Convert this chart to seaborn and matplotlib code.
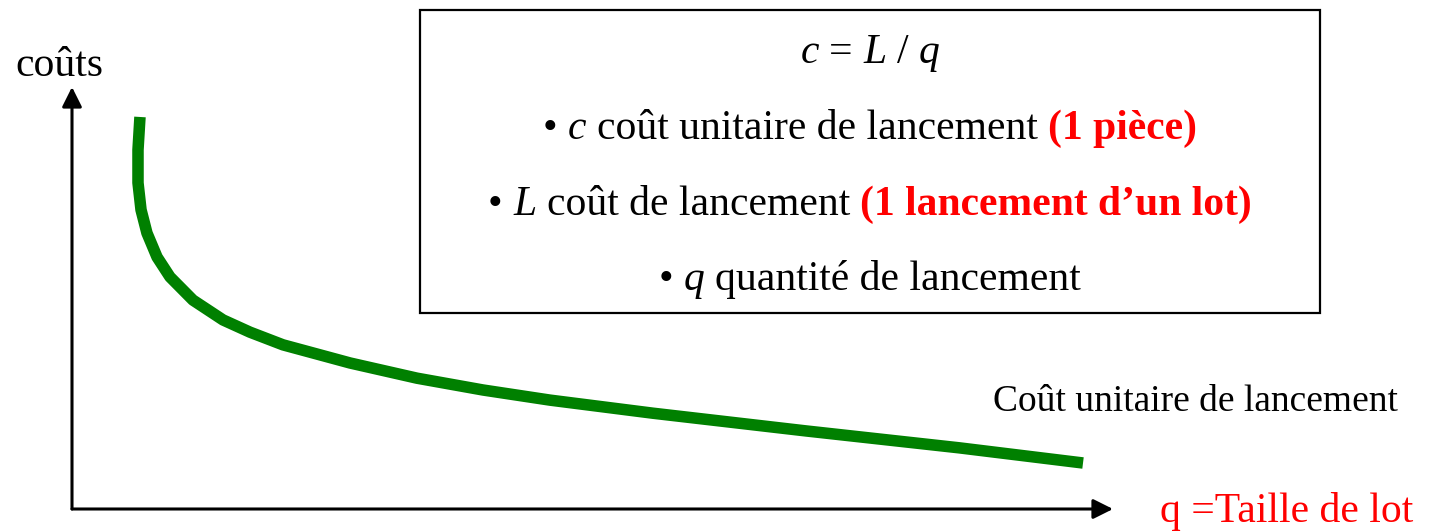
import matplotlib
matplotlib.use('Agg')
import matplotlib.pyplot as plt
import matplotlib.patches as mpatches
import seaborn as sns

# curve (q in % of the x axis, cost in % of the y axis)
lot_size = [6.53, 6.34, 6.34, 6.63, 7.20, 8.17, 9.41, 11.62, 14.51, 17.10, 20.27,
            26.71, 33.14, 39.48, 45.92, 55.81, 70.51, 85.21, 97.12]
unit_cost = [92.9, 85.1, 77.3, 70.9, 65.4, 59.7, 55.0, 49.5, 44.8, 41.9, 38.9,
             34.6, 31.0, 28.2, 25.8, 22.7, 18.5, 14.5, 10.9]

formula = [('c', 'italic', 'normal', 'black'), ('=', 'normal', 'normal', 'black'),
           ('L', 'italic', 'normal', 'black'), ('/', 'normal', 'normal', 'black'),
           ('q', 'italic', 'normal', 'black')]
line_c = [('\u2022', 'normal', 'normal', 'black'), ('c', 'italic', 'normal', 'black'),
          ('coût unitaire de lancement', 'normal', 'normal', 'black'),
          ('(1 pièce)', 'normal', 'bold', 'red')]
line_l = [('\u2022', 'normal', 'normal', 'black'), ('L', 'italic', 'normal', 'black'),
          ('coût de lancement', 'normal', 'normal', 'black'),
          ('(1 lancement d\u2019un lot)', 'normal', 'bold', 'red')]
line_q = [('\u2022', 'normal', 'normal', 'black'), ('q', 'italic', 'normal', 'black'),
          ('quantité de lancement', 'normal', 'normal', 'black')]

sns.set_style('white')
plt.rcParams['font.family'] = ['Liberation Serif', 'DejaVu Serif']
plt.rcParams['text.color'] = 'black'

W, H, DPI = 1437, 532, 100
fig = plt.figure(figsize=(W / DPI, H / DPI), dpi=DPI)
ax = fig.add_axes([72 / W, (H - 509) / H, 1041 / W, 422 / H])
ax.set_xlim(0, 100)
ax.set_ylim(0, 100)
ax.set_axis_off()

sns.lineplot(x=lot_size, y=unit_cost, sort=False, estimator=None,
             color='green', linewidth=8.3, ax=ax)
ax.lines[0].set_solid_capstyle('butt')
ax.lines[0].set_solid_joinstyle('round')

arrow = dict(arrowstyle='-|>', color='black', lw=2.2, mutation_scale=30,
             shrinkA=0, shrinkB=0)
ax.annotate('', xy=(100, 0), xytext=(0, 0), arrowprops=arrow, annotation_clip=False)
ax.annotate('', xy=(0, 100), xytext=(0, 0), arrowprops=arrow, annotation_clip=False)


def fx(x, y):
    return x / W, 1 - y / H


renderer = fig.canvas.get_renderer()


def draw_runs(runs, cx, base, size):
    texts = []
    for s, style, weight, color in runs:
        texts.append(fig.text(0, 0, s, fontsize=size, fontstyle=style,
                              fontweight=weight, color=color,
                              ha='left', va='baseline'))
    widths = [t.get_window_extent(renderer).width for t in texts]
    gap = size * DPI / 72 * 0.25
    x = cx - (sum(widths) + gap * (len(texts) - 1)) / 2
    for t, w in zip(texts, widths):
        t.set_position(fx(x, base))
        x += w + gap


fs = 30
box = mpatches.Rectangle(fx(420, 313), 900 / W, 303 / H, transform=fig.transFigure,
                         fill=False, edgecolor='black', lw=1.6)
fig.add_artist(box)
draw_runs(formula, 870, 63, fs)
draw_runs(line_c, 870, 139, fs)
draw_runs(line_l, 870, 215, fs)
draw_runs(line_q, 870, 290, fs)

fig.text(*fx(15, 76), 'coûts', fontsize=fs, ha='left', va='baseline')
fig.text(*fx(993, 411), 'Coût unitaire de lancement', fontsize=27, ha='left', va='baseline')
fig.text(*fx(1160, 522), 'q =Taille de lot', fontsize=fs, color='red', ha='left', va='baseline')

fig.savefig('out.png', dpi=DPI)
